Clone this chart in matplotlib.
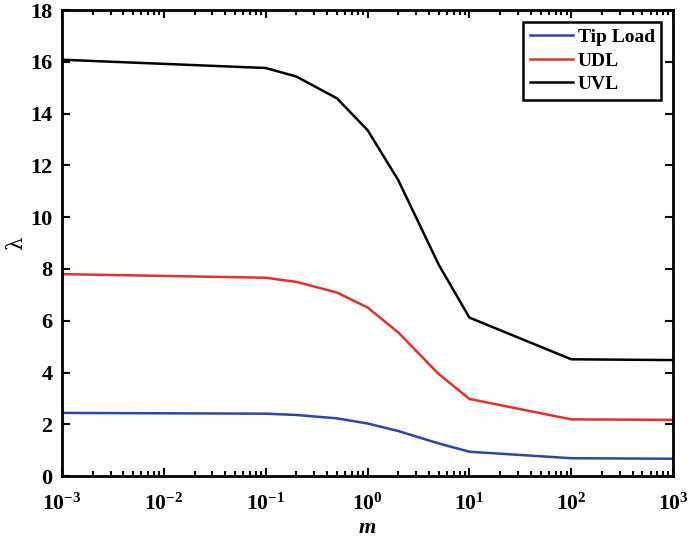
import numpy as np
import matplotlib.pyplot as plt
from matplotlib.ticker import LogLocator, FuncFormatter

plt.rcParams['font.family'] = 'Liberation Serif'
plt.rcParams['font.weight'] = 'bold'
plt.rcParams['mathtext.fontset'] = 'custom'
plt.rcParams['mathtext.rm'] = 'Liberation Serif:bold'
plt.rcParams['mathtext.bf'] = 'Liberation Serif:bold'
plt.rcParams['mathtext.it'] = 'Liberation Serif:bold:italic'

# stiffness ratio m and buckling parameter lambda for each load case
m = [1e-3, 0.1, 0.2, 0.5, 1, 2, 5, 10, 100, 1000]
tip_load = [2.44, 2.41, 2.36, 2.23, 2.03, 1.74, 1.26, 0.94, 0.69, 0.67]
udl = [7.80, 7.66, 7.50, 7.09, 6.51, 5.55, 3.94, 2.98, 2.19, 2.17]
uvl = [16.08, 15.76, 15.43, 14.59, 13.36, 11.43, 8.16, 6.12, 4.51, 4.48]

fig = plt.figure(figsize=(6.89, 5.41), dpi=100)
ax = fig.add_axes([0.09, 0.12, 0.887, 0.8615])

ax.plot(m, tip_load, color='#2c45a8', lw=1.8, label='Tip Load')
ax.plot(m, udl, color='#e0312b', lw=1.8, label='UDL')
ax.plot(m, uvl, color='black', lw=1.8, label='UVL')

ax.set_xscale('log')
ax.set_xlim(1e-3, 1e3)
ax.set_ylim(0, 18)
ax.set_yticks(np.arange(0, 19, 2))
ax.xaxis.set_major_locator(LogLocator(base=10, numticks=10))
ax.xaxis.set_minor_locator(LogLocator(base=10, subs=np.arange(2, 10), numticks=20))
ax.xaxis.set_major_formatter(FuncFormatter(lambda v, p: '$10^{%d}$' % round(np.log10(v))))

for s in ax.spines.values():
    s.set_linewidth(2)
ax.tick_params(which='both', direction='in', top=True, right=True, width=1.5)
ax.tick_params(which='major', length=6, labelsize=16, pad=7)
ax.tick_params(axis='x', which='major', labelsize=15.5, pad=12.5)
ax.tick_params(which='minor', length=3.5)

ax.set_xlabel('$m$', fontsize=16, labelpad=3)
ax.set_ylabel('λ', fontsize=15.5, family='DejaVu Serif', fontweight='normal')
ax.yaxis.set_label_coords(-0.057, 0.5)

leg = ax.legend(loc='upper right', fontsize=14, fancybox=False, edgecolor='black',
                framealpha=1, borderpad=0.35, labelspacing=0.3, handlelength=2.2,
                handletextpad=0.25, borderaxespad=0.6)
leg.get_frame().set_linewidth(1.8)

fig.savefig('out.png', dpi=100)
